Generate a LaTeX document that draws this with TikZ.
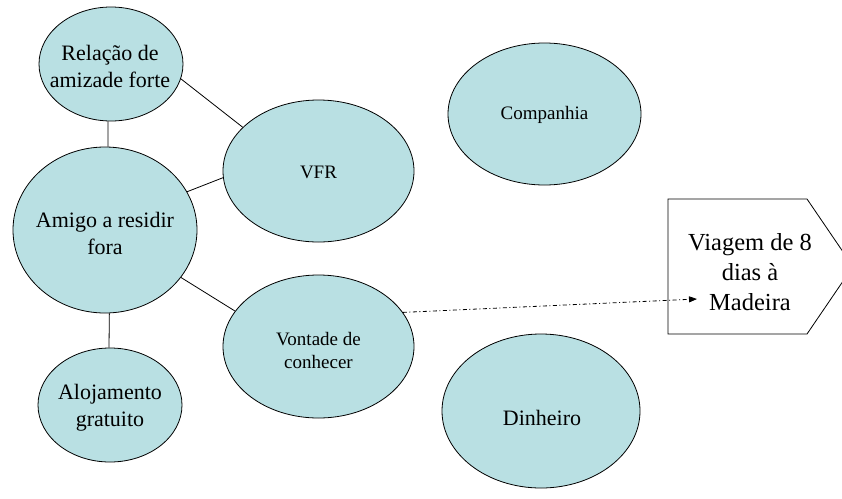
\documentclass[tikz,border=0pt]{standalone}
\usepackage{fontspec}
\setmainfont{Liberation Serif}
\usetikzlibrary{shapes.geometric,arrows.meta}
\definecolor{bub}{HTML}{B9E0E3}
\begin{document}
\begin{tikzpicture}[x=1pt,y=-1pt,
 bubble/.style={ellipse,draw=black,line width=0.8pt,fill=bub,inner sep=0pt},
 big/.style={font=\fontsize{22}{27}\selectfont,align=center,inner sep=0pt},
 small/.style={font=\fontsize{19}{23}\selectfont,align=center,inner sep=0pt},
 link/.style={draw=black,line width=0.8pt}]
\useasboundingbox (0,0) rectangle (842,498);
\clip (0,0) rectangle (842,498);
% ellipses
\node[bubble,minimum width=144pt,minimum height=114pt] (rel) at (111,64) {};
\node[bubble,minimum width=191pt,minimum height=142pt] (vfr) at (318.5,171) {};
\node[bubble,minimum width=193pt,minimum height=142pt] (comp) at (544.5,114) {};
\node[bubble,minimum width=184pt,minimum height=166pt] (amigo) at (105,230) {};
\node[bubble,minimum width=191pt,minimum height=143pt] (vont) at (318.5,346.5) {};
\node[bubble,minimum width=144pt,minimum height=114pt] (aloj) at (110,405) {};
\node[bubble,minimum width=198pt,minimum height=154pt] (din) at (541,411) {};
% texts
\node[big] (relt) at (110,66) {Relação de\\amizade forte};
\node[small] (vfrt) at (318.5,172) {VFR};
\node[small] (compt) at (544.5,115) {Companhia};
\node[big] (amigot) at (105,233) {Amigo a residir\\fora};
\node[small] (vontt) at (318.5,350) {Vontade de\\conhecer};
\node[big] (alojt) at (110,408) {Alojamento\\gratuito};
\node[big] (dint) at (542,418) {Dinheiro};
% pentagon
\coordinate (p1) at (668,199);
\coordinate (p2) at (807,199);
\coordinate (p3) at (853,266.5);
\coordinate (p4) at (807,334);
\coordinate (p5) at (668,334);
\draw[line width=0.8pt,fill=white] (p1) -- (p2) -- (p3) -- (p4) -- (p5) -- cycle;
\node[font=\fontsize{24.5}{30}\selectfont,align=center,inner sep=0pt] (trip) at (750,272) {Viagem de 8\\dias à\\Madeira};
\coordinate (arrowend) at (697,299);
% connectors
\draw[link] (rel.-12) -- (vfr.150);
\draw[link] (rel.-93) -- (amigo.88);
\draw[link] (amigo.25) -- (vfr.-176);
\draw[link] (amigo.-32) -- (vont.157.6);
\draw[link] (amigo.-87) -- (aloj.91);
\draw[line width=0.8pt,dash pattern=on 4pt off 2.5pt on 1pt off 2.5pt,-{Triangle[length=8pt,width=6pt]}] (vont.22) -- (arrowend);
\end{tikzpicture}
\end{document}
